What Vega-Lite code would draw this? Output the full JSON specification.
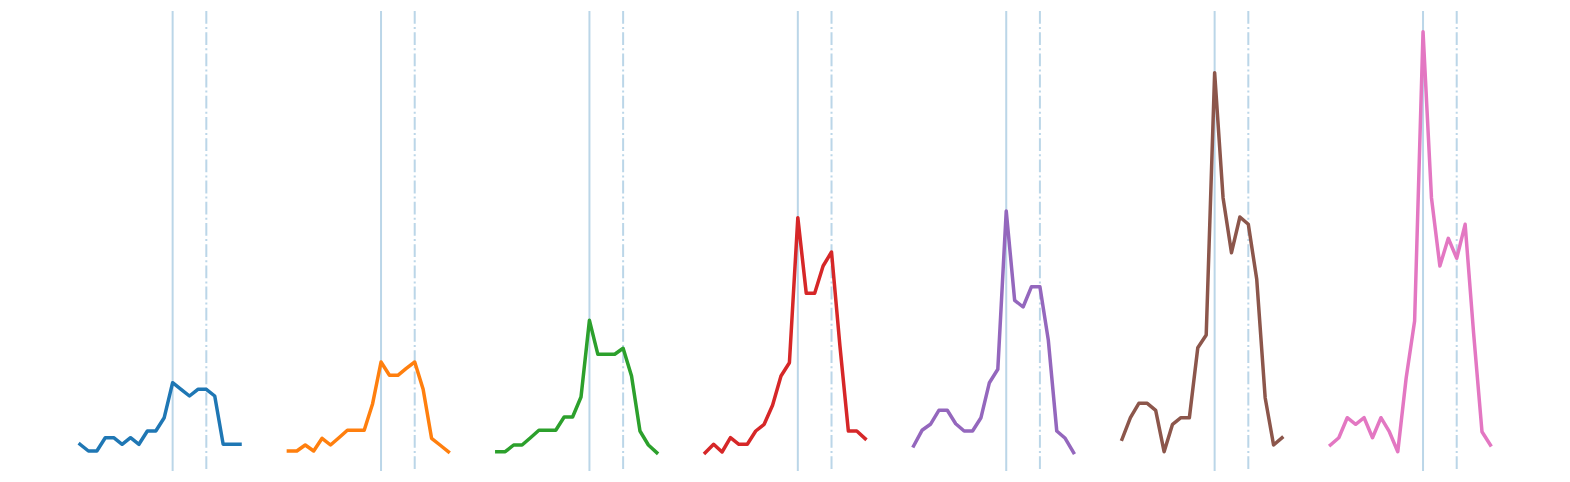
{
  "$schema": "https://vega.github.io/schema/vega-lite/v6.json",
  "padding": {"left": 77, "top": 10, "right": 0, "bottom": 0},
  "autosize": {"type": "pad"},
  "bounds": "flush",
  "config": {"view": {"stroke": null}},
  "data": {"values": [
    {"p":1,"x":0,"v":26.7},{"p":1,"x":1,"v":20},{"p":1,"x":2,"v":20},{"p":1,"x":3,"v":33.3},{"p":1,"x":4,"v":33.3},{"p":1,"x":5,"v":26.7},{"p":1,"x":6,"v":33.3},{"p":1,"x":7,"v":26.7},{"p":1,"x":8,"v":40},{"p":1,"x":9,"v":40},{"p":1,"x":10,"v":53.3},{"p":1,"x":11,"v":88.3},{"p":1,"x":12,"v":81.7},{"p":1,"x":13,"v":75},{"p":1,"x":14,"v":81.7},{"p":1,"x":15,"v":81.7},{"p":1,"x":16,"v":75},{"p":1,"x":17,"v":26.7},{"p":1,"x":18,"v":26.7},{"p":1,"x":19,"v":26.7},
    {"p":2,"x":0,"v":20},{"p":2,"x":1,"v":20},{"p":2,"x":2,"v":26},{"p":2,"x":3,"v":20},{"p":2,"x":4,"v":32.7},{"p":2,"x":5,"v":26},{"p":2,"x":6,"v":33.3},{"p":2,"x":7,"v":40.7},{"p":2,"x":8,"v":40.7},{"p":2,"x":9,"v":40.7},{"p":2,"x":10,"v":67.3},{"p":2,"x":11,"v":109},{"p":2,"x":12,"v":95.7},{"p":2,"x":13,"v":95.7},{"p":2,"x":14,"v":102.7},{"p":2,"x":15,"v":109},{"p":2,"x":16,"v":81.7},{"p":2,"x":17,"v":32.7},{"p":2,"x":18,"v":26},{"p":2,"x":19,"v":19.3},
    {"p":3,"x":0,"v":19.3},{"p":3,"x":1,"v":19.3},{"p":3,"x":2,"v":26},{"p":3,"x":3,"v":26},{"p":3,"x":4,"v":33.3},{"p":3,"x":5,"v":40.7},{"p":3,"x":6,"v":40.7},{"p":3,"x":7,"v":40.7},{"p":3,"x":8,"v":54},{"p":3,"x":9,"v":54},{"p":3,"x":10,"v":74},{"p":3,"x":11,"v":150.7},{"p":3,"x":12,"v":116.7},{"p":3,"x":13,"v":116.7},{"p":3,"x":14,"v":116.7},{"p":3,"x":15,"v":122.7},{"p":3,"x":16,"v":95},{"p":3,"x":17,"v":40},{"p":3,"x":18,"v":26},{"p":3,"x":19,"v":18.3},
    {"p":4,"x":0,"v":18.3},{"p":4,"x":1,"v":26.7},{"p":4,"x":2,"v":19},{"p":4,"x":3,"v":33.3},{"p":4,"x":4,"v":26.7},{"p":4,"x":5,"v":26.7},{"p":4,"x":6,"v":40},{"p":4,"x":7,"v":46.7},{"p":4,"x":8,"v":65.7},{"p":4,"x":9,"v":95},{"p":4,"x":10,"v":108.3},{"p":4,"x":11,"v":253.3},{"p":4,"x":12,"v":177.7},{"p":4,"x":13,"v":177.7},{"p":4,"x":14,"v":205},{"p":4,"x":15,"v":219},{"p":4,"x":16,"v":125},{"p":4,"x":17,"v":40},{"p":4,"x":18,"v":40},{"p":4,"x":19,"v":32.3},
    {"p":5,"x":0,"v":25},{"p":5,"x":1,"v":40.7},{"p":5,"x":2,"v":46.7},{"p":5,"x":3,"v":60.7},{"p":5,"x":4,"v":60.7},{"p":5,"x":5,"v":47.3},{"p":5,"x":6,"v":40},{"p":5,"x":7,"v":40},{"p":5,"x":8,"v":53.3},{"p":5,"x":9,"v":88.3},{"p":5,"x":10,"v":101.7},{"p":5,"x":11,"v":260},{"p":5,"x":12,"v":170.7},{"p":5,"x":13,"v":164},{"p":5,"x":14,"v":184.3},{"p":5,"x":15,"v":184.3},{"p":5,"x":16,"v":130.7},{"p":5,"x":17,"v":40},{"p":5,"x":18,"v":32.7},{"p":5,"x":19,"v":18.3},
    {"p":6,"x":0,"v":31.7},{"p":6,"x":1,"v":53.3},{"p":6,"x":2,"v":67.7},{"p":6,"x":3,"v":67.7},{"p":6,"x":4,"v":60.7},{"p":6,"x":5,"v":19.3},{"p":6,"x":6,"v":46.7},{"p":6,"x":7,"v":53.3},{"p":6,"x":8,"v":53.3},{"p":6,"x":9,"v":123.3},{"p":6,"x":10,"v":136},{"p":6,"x":11,"v":398.3},{"p":6,"x":12,"v":273.3},{"p":6,"x":13,"v":218.3},{"p":6,"x":14,"v":254},{"p":6,"x":15,"v":246.7},{"p":6,"x":16,"v":191.7},{"p":6,"x":17,"v":73.3},{"p":6,"x":18,"v":26},{"p":6,"x":19,"v":33.3},
    {"p":7,"x":0,"v":26},{"p":7,"x":1,"v":33.3},{"p":7,"x":2,"v":53.3},{"p":7,"x":3,"v":46.7},{"p":7,"x":4,"v":53.3},{"p":7,"x":5,"v":33.3},{"p":7,"x":6,"v":53.3},{"p":7,"x":7,"v":39.3},{"p":7,"x":8,"v":19.3},{"p":7,"x":9,"v":93.3},{"p":7,"x":10,"v":150},{"p":7,"x":11,"v":439.3},{"p":7,"x":12,"v":273.3},{"p":7,"x":13,"v":205},{"p":7,"x":14,"v":232.7},{"p":7,"x":15,"v":212.7},{"p":7,"x":16,"v":246.7},{"p":7,"x":17,"v":138.3},{"p":7,"x":18,"v":39.3},{"p":7,"x":19,"v":26},
    {"p":1,"r":11,"k":"s"},{"p":1,"r":15,"k":"d"},
    {"p":2,"r":11,"k":"s"},{"p":2,"r":15,"k":"d"},
    {"p":3,"r":11,"k":"s"},{"p":3,"r":15,"k":"d"},
    {"p":4,"r":11,"k":"s"},{"p":4,"r":15,"k":"d"},
    {"p":5,"r":11,"k":"s"},{"p":5,"r":15,"k":"d"},
    {"p":6,"r":11,"k":"s"},{"p":6,"r":15,"k":"d"},
    {"p":7,"r":11,"k":"s"},{"p":7,"r":15,"k":"d"}
  ]},
  "facet": {"column": {"field": "p", "type": "ordinal", "header": null}},
  "spacing": 48.4,
  "spec": {
    "width": 160,
    "height": 460,
    "layer": [
      {
        "transform": [{"filter": "datum.k == 's'"}],
        "mark": {"type": "rule", "color": "#1f77b4", "opacity": 0.3, "strokeWidth": 2},
        "encoding": {"x": {"field": "r", "type": "quantitative", "scale": {"domain": [0, 19], "nice": false, "zero": false}, "axis": null}}
      },
      {
        "transform": [{"filter": "datum.k == 'd'"}],
        "mark": {"type": "rule", "color": "#1f77b4", "opacity": 0.3, "strokeWidth": 2, "strokeDash": [12.8, 3.2, 2, 3.2]},
        "encoding": {"x": {"field": "r", "type": "quantitative", "scale": {"domain": [0, 19], "nice": false, "zero": false}, "axis": null}}
      },
      {
        "transform": [{"filter": "isValid(datum.v)"}],
        "mark": {"type": "line", "strokeWidth": 3.5, "strokeJoin": "round", "strokeCap": "square"},
        "encoding": {
          "x": {"field": "x", "type": "quantitative", "scale": {"domain": [0, 19], "nice": false, "zero": false}, "axis": null},
          "y": {"field": "v", "type": "quantitative", "scale": {"domain": [0, 460], "nice": false}, "axis": null},
          "color": {"field": "p", "type": "nominal", "scale": {"range": ["#1f77b4", "#ff7f0e", "#2ca02c", "#d62728", "#9467bd", "#8c564b", "#e377c2"]}, "legend": null}
        }
      }
    ]
  }
}
